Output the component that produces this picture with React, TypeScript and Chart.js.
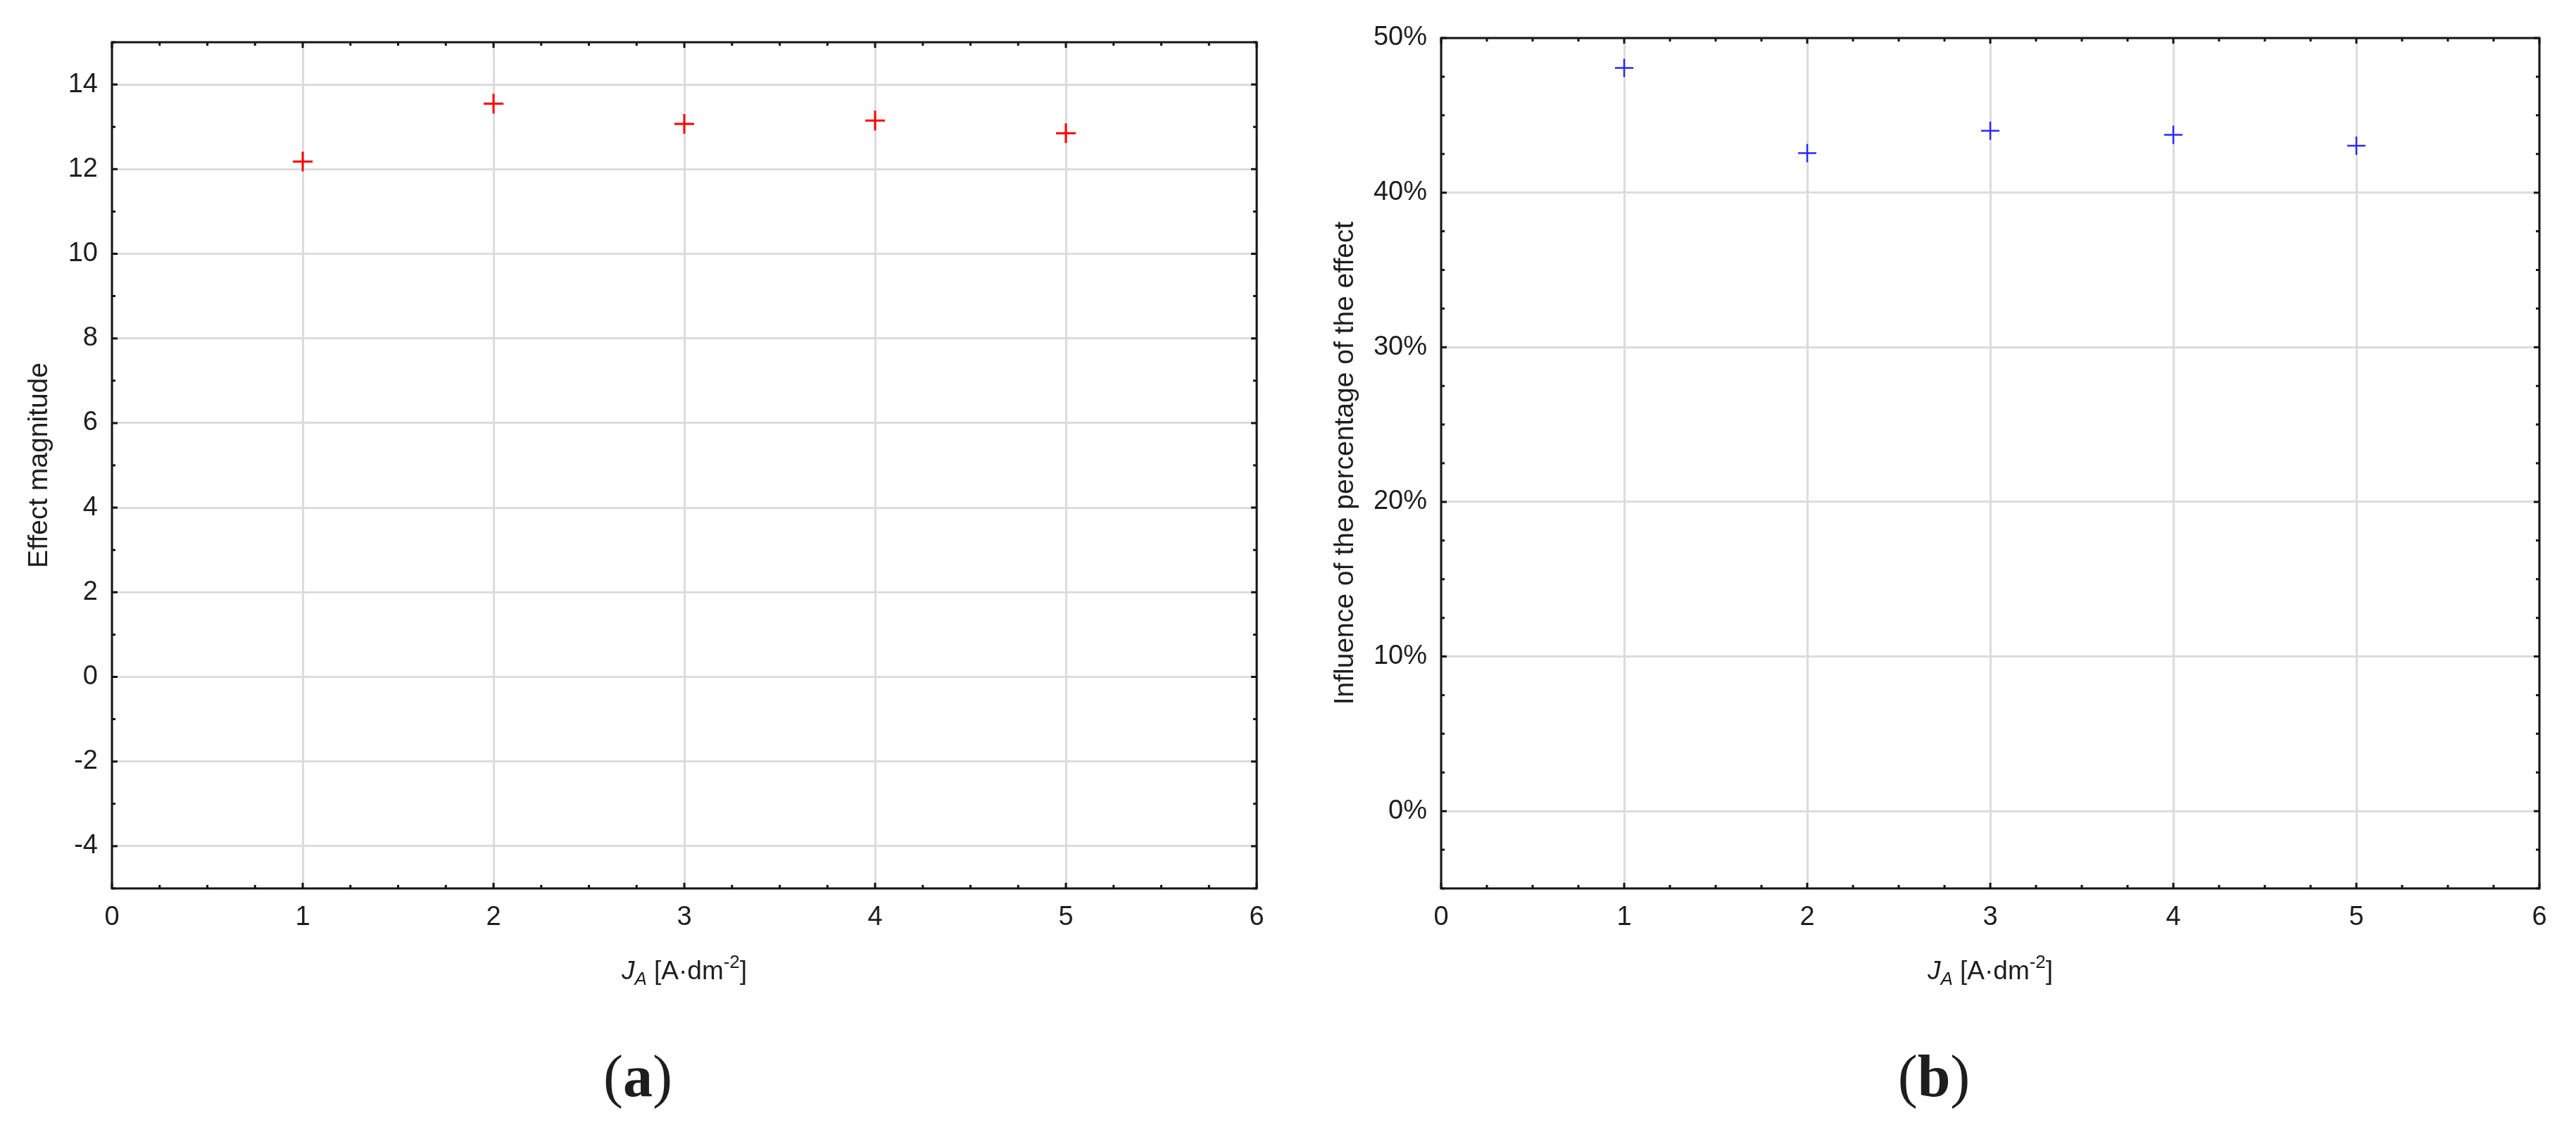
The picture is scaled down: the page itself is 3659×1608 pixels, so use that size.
import React, { useEffect, useRef } from "react";
import { Chart, registerables } from "chart.js";

Chart.register(...registerables);

// ---- data ----
const X_VALUES = [1, 2, 3, 4, 5];
const EFFECT_MAGNITUDE = [12.18, 13.55, 13.07, 13.15, 12.85];
const EFFECT_PERCENT = [48.07, 42.56, 44.0, 43.74, 43.03];
const X_TICKS = [0, 1, 2, 3, 4, 5, 6];
const Y_TICKS_A = [-4, -2, 0, 2, 4, 6, 8, 10, 12, 14];
const Y_TICKS_B = [0, 10, 20, 30, 40, 50];
const Y_TITLE_A = "Effect magnitude";
const Y_TITLE_B = "Influence of the percentage of the effect";
const X_TITLE_MAIN = "J";
const X_TITLE_SUB = "A";
const X_TITLE_UNIT = " [A·dm";
const X_TITLE_SUP = "-2";
const X_TITLE_END = "]";
const PANEL_LABELS = ["a", "b"];

const SANS = "'Liberation Sans', Arial, sans-serif";
const SERIF = "'Liberation Serif', 'Times New Roman', serif";
const TEXT_COLOR = "#1e1e1e";
const GRID_COLOR = "#dcdcdc";
const FRAME_COLOR = "#151515";
const PAGE_H = 1608;

type Seg = { text: string; font: string; dy: number };

function drawSegments(ctx: CanvasRenderingContext2D, segs: Seg[], cx: number, baseline: number) {
  ctx.save();
  ctx.textBaseline = "alphabetic";
  ctx.textAlign = "left";
  ctx.fillStyle = TEXT_COLOR;
  let total = 0;
  const widths = segs.map((s) => {
    ctx.font = s.font;
    const w = ctx.measureText(s.text).width;
    total += w;
    return w;
  });
  let x = cx - total / 2;
  segs.forEach((s, i) => {
    ctx.font = s.font;
    ctx.fillText(s.text, x, baseline + s.dy);
    x += widths[i];
  });
  ctx.restore();
}

type PanelCfg = {
  left: number;
  width: number;
  chartLeft: number;
  top: number;
  rightPad: number;
  bottom: number;
  values: number[];
  color: string;
  pointRadius: number;
  pointWidth: number;
  yMin: number;
  yMax: number;
  yTicks: number[];
  yMinor: number;
  yTitle: string;
  yTitlePad: number;
  percent: boolean;
  label: string;
  labelCx: number;
};

const PANELS: PanelCfg[] = [
  {
    left: 0,
    width: 1830,
    chartLeft: 159,
    top: 60,
    rightPad: 45,
    bottom: 1262,
    values: EFFECT_MAGNITUDE,
    color: "#ff0000",
    pointRadius: 14,
    pointWidth: 3,
    yMin: -5,
    yMax: 15,
    yTicks: Y_TICKS_A,
    yMinor: 1,
    yTitle: Y_TITLE_A,
    yTitlePad: 33,
    percent: false,
    label: PANEL_LABELS[0],
    labelCx: 906,
  },
  {
    left: 1830,
    width: 1829,
    chartLeft: 217,
    top: 54,
    rightPad: 52,
    bottom: 1262,
    values: EFFECT_PERCENT,
    color: "#2a2aff",
    pointRadius: 13,
    pointWidth: 2.5,
    yMin: -5,
    yMax: 50,
    yTicks: Y_TICKS_B,
    yMinor: 2.5,
    yTitle: Y_TITLE_B,
    yTitlePad: 58,
    percent: true,
    label: PANEL_LABELS[1],
    labelCx: 2747 - 1830,
  },
];

function makeDecorPlugin(cfg: PanelCfg) {
  return {
    id: "decor",
    beforeDatasetsDraw(chart: any) {
      const ctx: CanvasRenderingContext2D = chart.ctx;
      const a = chart.chartArea;
      const xs = chart.scales.x;
      const ys = chart.scales.y;
      ctx.save();
      ctx.strokeStyle = FRAME_COLOR;
      ctx.lineWidth = 3;
      // minor / major ticks (inward, all four sides)
      const xMinor = 0.25;
      for (let v = xs.min; v <= xs.max + 1e-9; v += xMinor) {
        const px = xs.getPixelForValue(v);
        const major = Math.abs(v - Math.round(v)) < 1e-6;
        const len = major ? 8 : 5;
        ctx.beginPath();
        ctx.moveTo(px, a.bottom);
        ctx.lineTo(px, a.bottom - len);
        ctx.moveTo(px, a.top);
        ctx.lineTo(px, a.top + len);
        ctx.stroke();
      }
      for (let v = ys.min; v <= ys.max + 1e-9; v += cfg.yMinor) {
        const py = ys.getPixelForValue(v);
        const major = cfg.yTicks.some((t) => Math.abs(t - v) < 1e-6);
        const len = major ? 8 : 5;
        ctx.beginPath();
        ctx.moveTo(a.left, py);
        ctx.lineTo(a.left + len, py);
        ctx.moveTo(a.right, py);
        ctx.lineTo(a.right - len, py);
        ctx.stroke();
      }
      // frame
      ctx.lineWidth = 3;
      ctx.strokeRect(a.left, a.top, a.right - a.left, a.bottom - a.top);
      ctx.restore();
    },
    afterDraw(chart: any) {
      const ctx: CanvasRenderingContext2D = chart.ctx;
      const a = chart.chartArea;
      const cx = (a.left + a.right) / 2;
      drawSegments(
        ctx,
        [
          { text: X_TITLE_MAIN, font: `italic 37px ${SANS}`, dy: 0 },
          { text: X_TITLE_SUB, font: `italic 26px ${SANS}`, dy: 8 },
          { text: X_TITLE_UNIT, font: `37px ${SANS}`, dy: 0 },
          { text: X_TITLE_SUP, font: `26px ${SANS}`, dy: -16 },
          { text: X_TITLE_END, font: `37px ${SANS}`, dy: 0 },
        ],
        cx,
        1391
      );
      drawSegments(
        ctx,
        [
          { text: "(", font: `84px ${SERIF}`, dy: 0 },
          { text: cfg.label, font: `bold 84px ${SERIF}`, dy: 0 },
          { text: ")", font: `84px ${SERIF}`, dy: 0 },
        ],
        cfg.labelCx,
        1557
      );
    },
  };
}

function Panel({ cfg }: { cfg: PanelCfg }) {
  const ref = useRef<HTMLCanvasElement | null>(null);
  useEffect(() => {
    if (!ref.current) return;
    const points = X_VALUES.map((x, i) => ({ x, y: cfg.values[i] }));
    const chart = new Chart(ref.current, {
      type: "scatter",
      data: {
        datasets: [
          {
            data: points,
            pointStyle: "cross",
            pointRadius: cfg.pointRadius,
            pointBorderWidth: cfg.pointWidth,
            borderColor: cfg.color,
            backgroundColor: cfg.color,
            pointBorderColor: cfg.color,
            showLine: false,
          } as any,
        ],
      },
      options: {
        animation: false,
        responsive: false,
        maintainAspectRatio: false,
        devicePixelRatio: 1,
        layout: { padding: { top: cfg.top, right: cfg.rightPad, left: 0, bottom: 0 } },
        plugins: { legend: { display: false }, tooltip: { enabled: false } },
        scales: {
          x: {
            type: "linear",
            min: 0,
            max: 6,
            afterBuildTicks: (s: any) => {
              s.ticks = X_TICKS.map((v) => ({ value: v }));
            },
            afterFit: (s: any) => {
              s.height = PAGE_H - cfg.bottom;
            },
            grid: { color: GRID_COLOR, lineWidth: 3, drawTicks: false },
            border: { display: false },
            ticks: {
              font: { family: SANS, size: 38 },
              color: TEXT_COLOR,
              padding: 19,
              maxRotation: 0,
              autoSkip: false,
            },
          },
          y: {
            type: "linear",
            min: cfg.yMin,
            max: cfg.yMax,
            afterBuildTicks: (s: any) => {
              s.ticks = cfg.yTicks.map((v) => ({ value: v }));
            },
            afterFit: (s: any) => {
              s.width = cfg.chartLeft;
            },
            grid: { color: GRID_COLOR, lineWidth: 3, drawTicks: false },
            border: { display: false },
            title: {
              display: true,
              text: cfg.yTitle,
              color: TEXT_COLOR,
              font: { family: SANS, size: 39 },
              padding: { top: cfg.yTitlePad, bottom: 0 },
            },
            ticks: {
              font: { family: SANS, size: 38 },
              color: TEXT_COLOR,
              padding: 20,
              autoSkip: false,
              callback: (v: any) => (cfg.percent ? `${v}%` : `${v}`),
            },
          },
        },
      },
      plugins: [makeDecorPlugin(cfg)],
    } as any);
    return () => chart.destroy();
  }, [cfg]);
  return (
    <canvas
      ref={ref}
      width={cfg.width}
      height={PAGE_H}
      style={{ position: "absolute", left: cfg.left, top: 0, width: cfg.width, height: PAGE_H }}
    />
  );
}

export default function App() {
  return (
    <div style={{ position: "absolute", left: 0, top: 0, width: 3659, height: PAGE_H, background: "#fff" }}>
      {PANELS.map((p, i) => (
        <Panel key={i} cfg={p} />
      ))}
    </div>
  );
}
